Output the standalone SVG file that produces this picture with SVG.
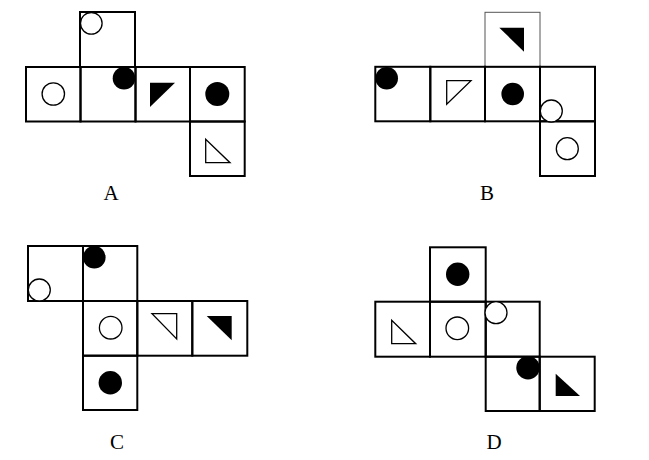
<svg xmlns="http://www.w3.org/2000/svg" width="649" height="460" viewBox="0 0 649 460">
<style>
.sq{fill:none;stroke:#000;stroke-width:2}
.thin{fill:none;stroke:#555;stroke-width:1}
.oc{fill:#fff;stroke:#000;stroke-width:1.3}
.bc{fill:#000}
.ot{fill:#fff;stroke:#000;stroke-width:1.3}
.bt{fill:#000}
.lbl{font-family:"Liberation Serif",serif;font-size:21px;fill:#000;text-anchor:middle}
</style>
<rect width="649" height="460" fill="#fff"/>
<g id="A">
<rect class="sq" x="80" y="12" width="55" height="55"/>
<rect class="sq" x="26" y="67" width="54.5" height="54.5"/>
<rect class="sq" x="80.5" y="67" width="55" height="54.5"/>
<rect class="sq" x="135.5" y="67" width="54.5" height="54.5"/>
<rect class="sq" x="190" y="67" width="54.7" height="54.5"/>
<rect class="sq" x="190" y="121.5" width="54.7" height="54.5"/>
<circle class="oc" cx="91.3" cy="23.3" r="10.8"/>
<circle class="oc" cx="53.3" cy="94" r="11.2"/>
<circle class="bc" cx="124" cy="78.3" r="11.3"/>
<polygon class="bt" points="150,82.7 175,82.7 150,107"/>
<circle class="bc" cx="217.3" cy="94" r="12"/>
<polygon class="ot" points="205.7,139.3 205.7,162.7 230,162.7"/>
<text class="lbl" x="111" y="200">A</text>
</g>
<g id="B">
<rect class="thin" x="485" y="12.3" width="55" height="54.5"/>
<rect class="sq" x="375.3" y="66.8" width="55" height="54.5"/>
<rect class="sq" x="430.3" y="66.8" width="54.7" height="54.5"/>
<rect class="sq" x="485" y="66.8" width="55" height="54.5"/>
<rect class="sq" x="540" y="66.8" width="55" height="54.5"/>
<rect class="sq" x="540" y="121.3" width="55" height="54.7"/>
<circle class="bc" cx="386.7" cy="78.3" r="11.3"/>
<polygon class="ot" points="446.7,80.7 471,80.7 446.7,104.3"/>
<circle class="bc" cx="512.7" cy="94" r="11.3"/>
<polygon class="bt" points="499.3,27.7 524,27.7 524,51.7"/>
<circle class="oc" cx="551.3" cy="111" r="11"/>
<circle class="oc" cx="567.3" cy="148.7" r="11"/>
<text class="lbl" x="487" y="200">B</text>
</g>
<g id="C">
<rect class="sq" x="28" y="246" width="55" height="55"/>
<rect class="sq" x="83" y="246" width="54.3" height="55"/>
<rect class="sq" x="83" y="301" width="54.3" height="54.7"/>
<rect class="sq" x="137.3" y="301" width="55" height="54.7"/>
<rect class="sq" x="192.3" y="301" width="55" height="54.7"/>
<rect class="sq" x="83" y="355.7" width="54.3" height="54.3"/>
<circle class="oc" cx="39.3" cy="290" r="11"/>
<circle class="bc" cx="94.3" cy="257.3" r="11.3"/>
<circle class="oc" cx="110.7" cy="327.7" r="11.3"/>
<polygon class="ot" points="152,313.7 176.7,313.7 176.7,339"/>
<polygon class="bt" points="206.7,316 231.7,316 231.7,340.3"/>
<circle class="bc" cx="110.3" cy="382.7" r="11.7"/>
<text class="lbl" x="117" y="449">C</text>
</g>
<g id="D">
<rect class="sq" x="430" y="247.3" width="55.7" height="54.4"/>
<rect class="sq" x="375.3" y="301.7" width="54.7" height="55"/>
<rect class="sq" x="430" y="301.7" width="55.7" height="55"/>
<rect class="sq" x="485.7" y="301.7" width="54" height="55"/>
<rect class="sq" x="485.7" y="356.7" width="54" height="54.3"/>
<rect class="sq" x="539.7" y="356.7" width="55" height="54.3"/>
<circle class="bc" cx="457.7" cy="274.3" r="11.7"/>
<polygon class="ot" points="391.7,320.3 391.7,343.7 415.7,343.7"/>
<circle class="oc" cx="457.3" cy="328.3" r="11.3"/>
<circle class="oc" cx="496" cy="312.7" r="11"/>
<circle class="bc" cx="528" cy="367.7" r="11.7"/>
<polygon class="bt" points="555.7,373.7 555.7,396 580,396"/>
<text class="lbl" x="494" y="449">D</text>
</g>
<g id="connectors"></g>
</svg>
